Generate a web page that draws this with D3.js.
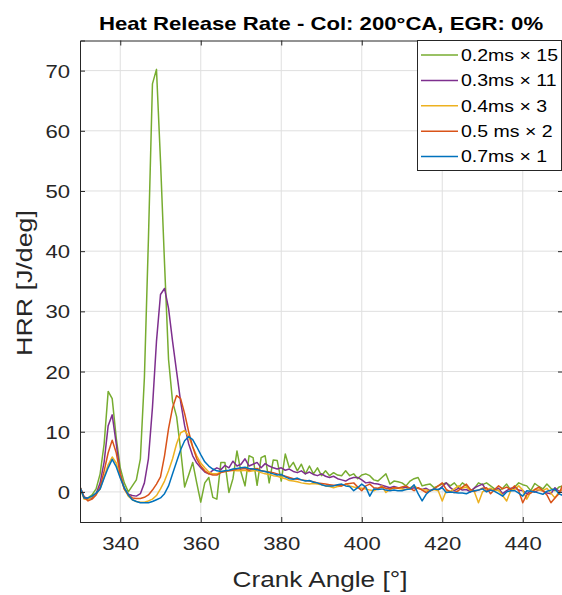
<!DOCTYPE html>
<html>
<head>
<meta charset="utf-8">
<script src="https://cdn.jsdelivr.net/npm/d3@7"></script>
<style>
body{margin:0;background:#fff}
svg{display:block}
text{font-family:"Liberation Sans",Arial,Helvetica,sans-serif}
</style>
</head>
<body>
<div id="chart"></div>
<script>
// crank angle grid, 1 deg steps
var crankAngle = d3.range(330, 451)

var hrr02 = [0.8,-1.0,-1.0,-0.5,0.5,3.0,8.0,16.7,15.5,9.0,
  4.0,1.5,0.0,1.0,2.0,5.5,19.0,42.0,67.8,70.2,
  55.0,38.0,22.0,15.0,12.5,7.0,0.8,2.8,4.9,1.5,
  -1.7,1.5,2.4,-0.9,-1.2,4.9,4.9,-0.1,2.2,6.8,
  3.3,1.0,6.0,5.7,1.1,5.7,6.0,1.5,5.3,5.2,
  1.8,6.3,4.0,4.9,3.5,4.6,3.0,4.3,3.0,4.0,
  2.7,3.5,2.7,3.2,2.8,2.7,3.5,2.7,3.0,2.2,
  2.8,3.0,2.7,2.0,1.8,2.4,3.0,1.3,1.8,1.7,
  1.5,1.0,1.8,2.2,2.4,1.0,1.2,1.3,0.7,1.0,
  1.3,1.5,1.0,1.5,0.7,1.5,1.0,0.2,0.6,1.5,
  1.2,1.5,1.0,0.5,0.2,0.6,1.3,0.3,0.8,1.5,
  1.2,1.0,0.2,1.4,0.9,0.5,1.3,0.6,0.2,0.8,
  1.0]
var hrr03 = [0.8,-0.8,-1.2,-1.0,-0.3,1.5,5.0,11.0,12.8,8.0,
  3.0,0.5,-0.4,-0.6,-0.7,-0.3,1.5,5.5,14.0,25.0,
  32.8,33.8,30.5,25.0,20.0,15.0,11.0,8.0,6.0,4.8,
  4.0,3.3,3.0,3.6,4.0,3.7,4.4,4.0,5.1,4.3,
  4.6,5.5,4.3,4.6,4.9,4.0,4.7,4.3,4.0,3.8,
  4.0,3.6,3.8,3.4,3.2,3.5,3.0,3.3,2.9,2.7,
  3.0,2.6,2.4,2.6,2.2,2.0,1.8,2.2,2.4,2.4,
  2.0,1.5,1.6,1.4,1.3,1.1,0.9,0.7,0.9,0.7,
  0.6,0.8,0.5,0.7,0.6,0.4,0.6,0.2,0.5,0.3,
  0.9,1.5,0.7,0.2,0.6,0.3,0.4,0.0,0.7,1.0,
  1.3,0.2,0.5,0.3,0.6,-0.3,0.2,0.6,0.7,0.3,
  0.2,-0.3,0.1,0.0,0.3,0.2,-0.2,-0.3,0.7,0.1,
  0.3]
var hrr04 = [0.8,-1.2,-1.3,-0.8,-0.3,0.5,2.5,4.5,5.8,4.8,
  2.5,0.5,-0.7,-1.3,-1.6,-1.7,-1.7,-1.5,-1.2,-0.6,
  0.5,1.8,3.5,5.5,8.0,9.8,10.2,9.2,7.5,6.0,
  4.8,4.0,3.3,3.0,3.0,3.3,3.4,3.5,3.6,3.5,
  3.5,3.6,3.4,3.5,3.5,3.2,3.0,2.9,2.7,2.6,
  2.4,2.2,1.9,1.8,1.7,1.5,1.4,1.3,1.4,1.3,
  1.2,1.0,0.9,0.7,0.9,1.0,1.3,1.0,0.8,0.7,
  0.6,0.5,0.3,0.2,0.5,1.0,-0.1,0.4,0.7,0.6,
  0.5,0.4,0.7,1.0,0.6,0.4,0.3,0.2,0.4,0.2,
  -1.5,0.2,0.1,0.5,1.0,0.6,0.8,0.3,0.0,-1.8,
  0.0,0.4,0.6,0.2,0.3,-0.6,-1.5,0.2,0.4,1.0,
  0.3,-1.2,0.0,0.4,0.3,0.2,0.6,-0.2,-1.0,0.0,
  0.5]
var hrr05 = [0.8,-0.8,-1.5,-1.2,-0.5,0.8,3.5,6.5,8.6,6.5,
  3.0,0.5,-0.5,-1.0,-1.1,-1.1,-0.9,-0.5,0.3,1.3,
  2.5,6.0,10.5,14.0,16.0,15.5,13.0,10.0,7.5,5.5,
  4.3,3.5,3.0,2.8,2.8,3.2,3.4,3.5,3.6,3.8,
  3.8,3.9,3.6,3.8,3.9,3.5,3.4,3.3,3.2,3.0,
  2.8,2.6,2.4,2.2,2.1,2.0,1.9,1.8,1.7,1.5,
  1.4,1.3,1.2,1.1,1.1,1.0,1.3,1.4,1.5,0.8,
  0.2,1.0,1.3,0.7,0.6,0.8,0.6,0.5,0.7,0.6,
  0.8,1.0,0.6,0.2,0.7,0.3,-0.1,0.2,0.5,1.0,
  1.5,0.4,0.0,-0.1,0.2,0.8,1.3,0.4,0.1,0.3,
  0.6,0.7,-0.3,0.4,1.0,0.5,0.8,0.4,1.0,0.2,
  -1.8,-0.5,-0.2,0.4,0.8,0.2,-0.5,-1.8,-1.0,-0.3,
  1.3]
var hrr07 = [0.8,-1.0,-1.0,-0.7,-0.2,0.5,2.3,4.0,5.4,4.2,
  2.3,0.7,-0.5,-1.3,-1.6,-1.8,-1.8,-1.8,-1.6,-1.3,
  -1.0,-0.3,1.0,3.0,5.0,7.0,8.5,9.2,8.7,7.5,
  6.2,5.0,4.3,3.8,3.5,3.4,3.5,3.6,3.8,3.9,
  4.0,4.1,3.9,3.8,3.7,3.5,3.4,3.2,3.0,2.8,
  2.9,2.5,2.2,2.1,2.3,2.0,1.8,1.9,1.6,1.5,
  1.2,1.0,1.0,1.0,1.2,1.3,1.0,0.9,0.2,0.7,
  1.3,0.8,-0.7,0.5,0.4,0.5,0.3,0.2,0.3,0.2,
  0.2,0.4,0.5,1.2,-0.3,-1.5,-0.4,0.2,0.5,0.4,
  0.7,-0.1,0.0,-0.1,-0.2,-0.2,-0.3,0.0,0.2,0.3,
  0.5,0.0,0.3,0.1,-0.3,-0.7,0.0,0.2,0.2,-0.2,
  -0.7,0.2,0.1,0.0,-0.2,-0.4,0.1,0.3,0.5,-0.3,
  -0.6]

var seriesNames = ["0.2ms \u00d7 15","0.3ms \u00d7 11","0.4ms \u00d7 3","0.5 ms \u00d7 2","0.7ms \u00d7 1"]
var seriesColors = ["#77AC30","#7E2F8E","#EDB120","#D95319","#0072BD"]
var xTicks = [340,360,380,400,420,440]
var yTicks = [0,10,20,30,40,50,60,70]

var allSeries = [hrr02,hrr03,hrr04,hrr05,hrr07]

var W = 562, H = 595
var mLeft = 80, mRight = 563, mTop = 40.5, mBottom = 522
var stretch = 1.19   // text in the picture is drawn wide
var axisCol = "#262626"

var svg = d3.select("#chart").append("svg")
    .attr("width", W).attr("height", H)

var X = d3.scaleLinear().domain([330,450]).range([mLeft,mRight])
var Y = d3.scaleLinear().domain([-5,75]).range([mBottom,mTop])

svg.append("defs").append("clipPath").attr("id","plotclip")
  .append("rect").attr("x",mLeft).attr("y",mTop).attr("width",mRight-mLeft).attr("height",mBottom-mTop)

// grid
var grid = svg.append("g").attr("stroke","#dfdfdf").attr("stroke-width",1)
grid.selectAll(".gx").data(xTicks).enter().append("line")
  .attr("x1",function(d){return X(d)}).attr("x2",function(d){return X(d)})
  .attr("y1",mTop).attr("y2",mBottom)
grid.selectAll(".gy").data(yTicks).enter().append("line")
  .attr("y1",function(d){return Y(d)}).attr("y2",function(d){return Y(d)})
  .attr("x1",mLeft).attr("x2",mRight)

// data lines
var line = d3.line()
  .x(function(d,i){return X(crankAngle[i])})
  .y(function(d){return Y(d)})

svg.append("g").attr("clip-path","url(#plotclip)")
  .selectAll("path").data(allSeries).enter().append("path")
  .attr("d",line)
  .attr("fill","none")
  .attr("stroke",function(d,i){return seriesColors[i]})
  .attr("stroke-width",1.5)
  .attr("stroke-linejoin","round")

// axes (ticks pointing inward, box)
var gx = svg.append("g").attr("transform","translate(0,"+mBottom+")")
  .call(d3.axisBottom(X).tickValues(xTicks).tickSize(-5).tickPadding(0))
var gxTop = svg.append("g").attr("transform","translate(0,"+mTop+")")
  .call(d3.axisTop(X).tickValues(xTicks).tickSize(-5).tickFormat(""))
var gy = svg.append("g").attr("transform","translate("+mLeft+",0)")
  .call(d3.axisLeft(Y).tickValues(yTicks).tickSize(-5).tickPadding(0))
var gyR = svg.append("g").attr("transform","translate("+mRight+",0)")
  .call(d3.axisRight(Y).tickValues(yTicks).tickSize(-5).tickFormat(""))

;[gx,gxTop,gy,gyR].forEach(function(g){
  g.select(".domain").attr("stroke",axisCol).attr("stroke-width",1)
  g.selectAll(".tick line").attr("stroke",axisCol)
})

gx.selectAll(".tick text")
  .attr("font-size",18.6).attr("fill",axisCol)
  .attr("y",28).attr("dy",0)
  .attr("transform","scale("+stretch+",1)")
gy.selectAll(".tick text")
  .attr("font-size",18.6).attr("fill",axisCol)
  .attr("x",-10/stretch).attr("dy","0.35em")
  .attr("transform","scale("+stretch+",1)")

// title and axis labels
svg.append("text")
  .attr("transform","translate(321,29.5) scale("+stretch+",1)")
  .attr("text-anchor","middle").attr("font-size",18.6).attr("font-weight","bold")
  .attr("fill","#000")
  .text("Heat Release Rate - Col: 200\u00b0CA, EGR: 0%")

svg.append("text")
  .attr("transform","translate(320,587) scale("+stretch+",1)")
  .attr("text-anchor","middle").attr("font-size",22).attr("fill",axisCol)
  .text("Crank Angle [\u00b0]")

svg.append("text")
  .attr("transform","translate(32,283) rotate(-90) scale("+stretch+",1)")
  .attr("text-anchor","middle").attr("font-size",22.5).attr("fill",axisCol)
  .text("HRR [J/deg]")

// legend
var lg = svg.append("g")
lg.append("rect").attr("x",417.5).attr("y",40.5).attr("width",144).attr("height",130)
  .attr("fill","#fff").attr("stroke",axisCol).attr("stroke-width",1)
var rows = lg.selectAll(".row").data(seriesNames).enter().append("g")
  .attr("transform",function(d,i){return "translate(0,"+(55+i*25.4)+")"})
rows.append("line").attr("x1",421).attr("x2",458)
  .attr("stroke",function(d,i){return seriesColors[i]}).attr("stroke-width",1.5)
rows.append("text")
  .attr("transform","translate(461,0) scale("+stretch+",1)")
  .attr("dy","0.35em").attr("font-size",16.4).attr("fill","#000")
  .text(function(d){return d})
</script>
</body>
</html>
